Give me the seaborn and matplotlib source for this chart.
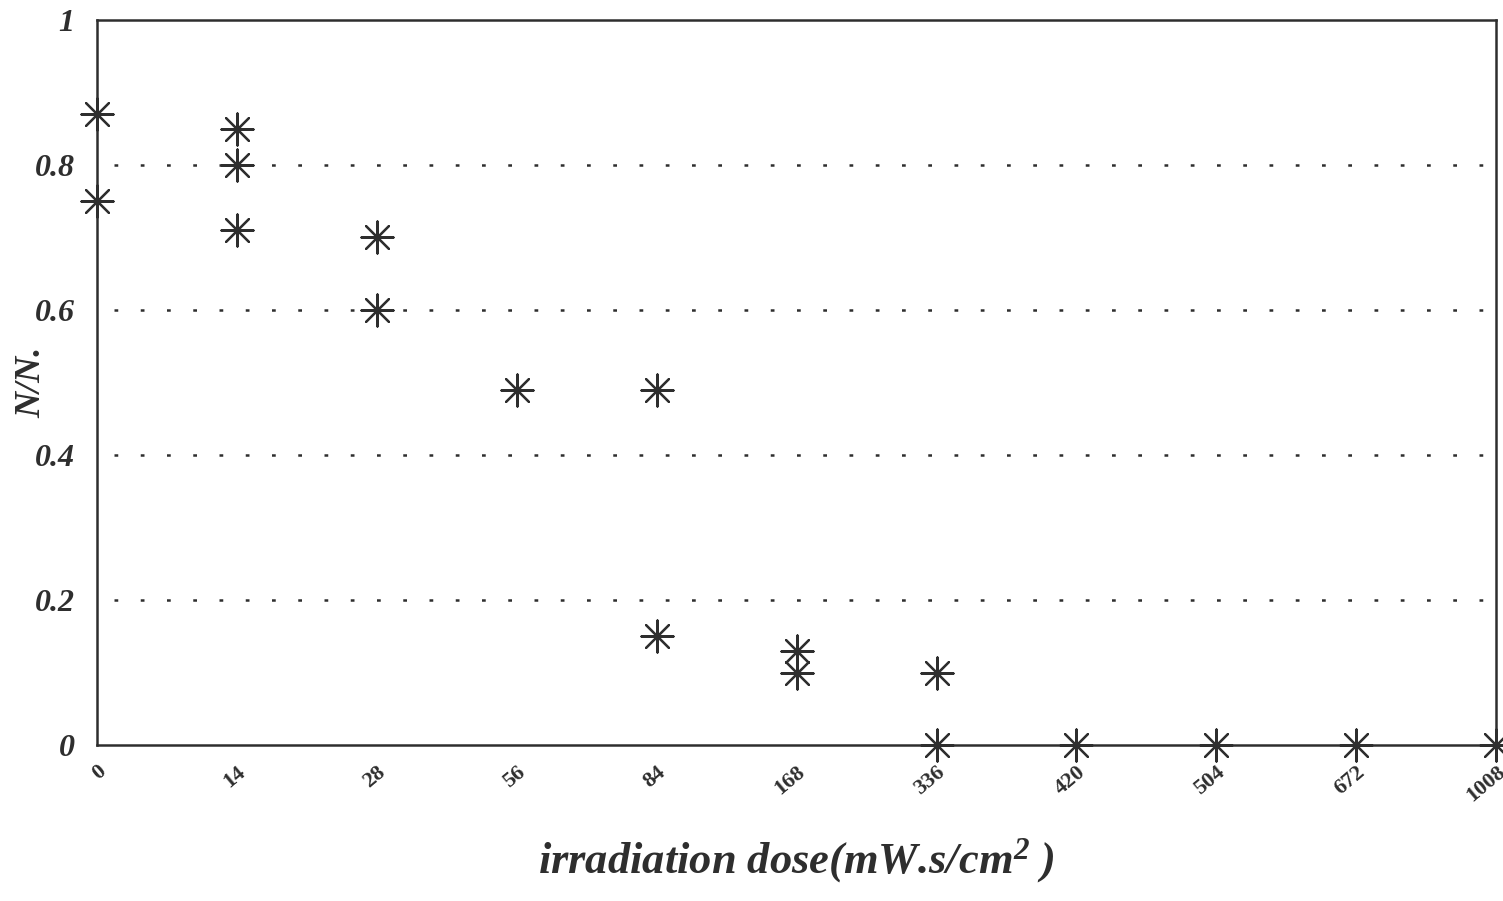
import numpy as np
import pandas as pd
import matplotlib
matplotlib.use("Agg")
import matplotlib.pyplot as plt
import seaborn as sns

# dose categories on the x axis (equally spaced)
doses = ["0", "14", "28", "56", "84", "168", "336", "420", "504", "672", "1008"]

# survival fraction N/N0
point_dose = ["0", "0", "14", "14", "14", "28", "28", "56", "84", "84",
              "168", "168", "336", "336", "420", "504", "672", "1008"]
point_val = [0.87, 0.75, 0.85, 0.80, 0.71, 0.70, 0.60, 0.49, 0.49, 0.15,
             0.13, 0.10, 0.10, 0.0, 0.0, 0.0, 0.0, 0.0]

yticks = [0, 0.2, 0.4, 0.6, 0.8, 1]
ytick_labels = ["0", "0.2", "0.4", "0.6", "0.8", "1"]
grid_levels = [0.2, 0.4, 0.6, 0.8]

df = pd.DataFrame({"dose": point_dose, "frac": point_val})

sns.set_style("white")
plt.rcParams["font.family"] = ["Liberation Serif", "DejaVu Serif"]
plt.rcParams["mathtext.fontset"] = "custom"
plt.rcParams["mathtext.rm"] = "Liberation Serif:italic:bold"
plt.rcParams["mathtext.it"] = "Liberation Serif:italic:bold"

fig = plt.figure(figsize=(15.03, 9.01), dpi=100)
ax = fig.add_axes([0.0645, 0.173, 0.931, 0.805])

ink = "#2e2e2e"
for g in grid_levels:
    ax.axhline(g, xmin=0.012, color=ink, lw=1.8, ls=(0, (1.5, 9)), zorder=1)

sns.stripplot(data=df, x="dose", y="frac", order=doses, jitter=False,
              marker=(8, 2, 0), size=23, color=ink, edgecolor=ink,
              linewidth=1.6, ax=ax, zorder=3, clip_on=False)

ax.set_xlim(0, len(doses) - 1)
ax.set_ylim(0, 1)
ax.set_yticks(yticks)
ax.set_yticklabels(ytick_labels, fontsize=23, fontstyle="italic",
                   fontweight="bold", color=ink)
ax.set_xticks(range(len(doses)))
ax.set_xticklabels(doses, rotation=40, ha="right", va="top",
                   rotation_mode="anchor", fontsize=16, fontweight="bold",
                   color=ink)
ax.tick_params(axis="y", length=0, pad=16)
ax.tick_params(axis="x", length=0, pad=12)

for sp in ax.spines.values():
    sp.set_color(ink)
    sp.set_linewidth(1.8)

ax.set_xlabel(r"irradiation dose(mW.s/cm$^{2}$ )", fontsize=32,
              fontstyle="italic", fontweight="bold", color=ink, labelpad=22)
ax.set_ylabel("N/N.", fontsize=26, fontstyle="italic", fontweight="bold",
              color=ink)
ax.yaxis.set_label_coords(-0.035, 0.5)

fig.savefig("out.png", dpi=100)
